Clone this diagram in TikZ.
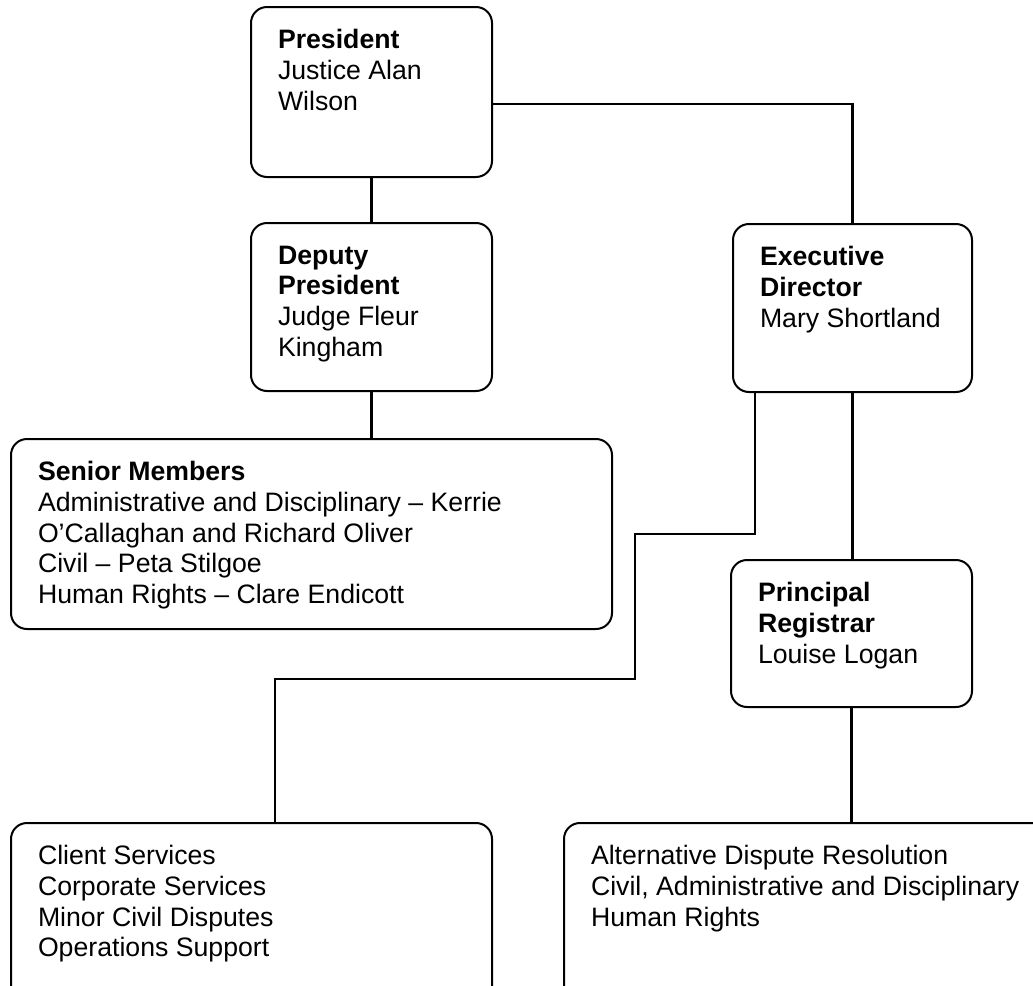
\documentclass[tikz,border=0pt]{standalone}
\usepackage{fontspec}
\setmainfont{Liberation Sans}
\usepackage{tikz}
\usetikzlibrary{calc,positioning}

\begin{document}
\begin{tikzpicture}[
    x=0.75pt, y=-0.75pt,
    orgbox/.style={rectangle, draw=black, line width=1.5pt, rounded corners=12pt,
                   anchor=north west, inner xsep=20.25pt, inner ysep=17pt,
                   font=\fontsize{20}{23}\selectfont},
    link/.style={-, line width=1.6pt, black},
  ]
    \useasboundingbox (0,0) rectangle (1033,986);
    \clip (0,0) rectangle (1033,986);

    \node[orgbox] (pres) at (250,6)
      {\parbox[t][93.5pt][t]{140.25pt}{\textbf{President}\\Justice Alan\\Wilson}};
    \node[orgbox] (dep) at (250,222)
      {\parbox[t][92pt][t]{140.25pt}{\textbf{Deputy}\\\textbf{President}\\Judge Fleur\\Kingham}};
    \node[orgbox] (exec) at (732,223)
      {\parbox[t][92pt][t]{138.75pt}{\textbf{Executive}\\\textbf{Director}\\Mary Shortland}};
    \node[orgbox] (senior) at (10,438)
      {\parbox[t][108.5pt][t]{410.25pt}{\textbf{Senior Members}\\
        Administrative and Disciplinary -- Kerrie\\
        O’Callaghan and Richard Oliver\\
        Civil -- Peta Stilgoe\\
        Human Rights -- Clare Endicott}};
    \node[orgbox] (princ) at (730,559)
      {\parbox[t][76.25pt][t]{140.25pt}{\textbf{Principal}\\\textbf{Registrar}\\Louise Logan}};

    % bottom row runs off the page
    \node[orgbox] (svc) at (10,822)
      {\parbox[t][101pt][t]{320.25pt}{Client Services\\Corporate Services\\
        Minor Civil Disputes\\Operations Support}};
    \node[orgbox] (trib) at (563,822)
      {\parbox[t][101pt][t]{327pt}{Alternative Dispute Resolution\\
        Civil, Administrative and Disciplinary\\Human Rights}};

    \coordinate (j1) at (635,534);
    \coordinate (j2) at (275,679);

    \draw[link] ($(pres.east)+(0,12)$) -| (exec.north);
    \draw[link] (pres.south) -- (dep.north);
    \draw[link] (dep.south) -- (dep.south |- senior.north);
    \draw[link] (exec.south) -- (exec.south |- princ.north);
    \draw[link] (princ.south) -- (princ.south |- trib.north);
    \draw[link] ($(exec.south west)+(23,0)$) |- (j1) |- (j2) -- (j2 |- svc.north);
  \end{tikzpicture}
\end{document}
